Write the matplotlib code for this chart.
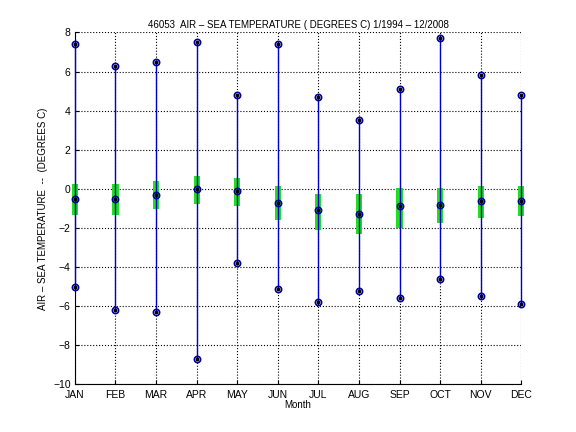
import numpy as np
import matplotlib
matplotlib.use("Agg")
import matplotlib.pyplot as plt

# ---------- data ----------
months = ["JAN", "FEB", "MAR", "APR", "MAY", "JUN",
          "JUL", "AUG", "SEP", "OCT", "NOV", "DEC"]
t_max = [7.4, 6.3, 6.5, 7.5, 4.8, 7.4, 4.7, 3.5, 5.1, 7.7, 5.8, 4.8]
t_min = [-5.0, -6.2, -6.3, -8.7, -3.8, -5.1, -5.8, -5.2, -5.6, -4.6, -5.5, -5.9]
t_mean = [-0.5, -0.5, -0.3, 0.0, -0.1, -0.7, -1.1, -1.3, -0.9, -0.8, -0.6, -0.6]
sd_top = [0.26, 0.26, 0.41, 0.67, 0.58, 0.17, -0.24, -0.24, 0.04, 0.05, 0.15, 0.15]
sd_bot = [-1.32, -1.32, -1.03, -0.78, -0.89, -1.57, -2.09, -2.29, -1.98, -1.73, -1.47, -1.37]
# ---------------------------------------------

plt.rcParams["font.family"] = ["Liberation Sans", "DejaVu Sans"]
plt.rcParams["font.size"] = 7

x = np.arange(1, 13)
fig = plt.figure(figsize=(5.76, 4.32), dpi=100)
ax = fig.add_axes([0.13, 0.11, 0.775, 0.815])

# min-max range lines
ax.vlines(x, t_min, t_max, color="#0000cc", lw=1.0, zorder=3, clip_on=False)
# mean +/- std bars
bars = ax.bar(x, np.array(sd_top) - np.array(sd_bot), bottom=sd_bot, width=0.15,
              color="#22dd22", zorder=2)
for b in bars:
    b.set_clip_on(False)

for vals in (t_max, t_min, t_mean):
    ax.plot(x, vals, "o", ls="none", ms=4.5, mfc="none", mec="#000099", mew=1.2,
            zorder=4, clip_on=False)
    ax.plot(x, vals, ".", ls="none", ms=3.5, color="black", zorder=5, clip_on=False)

ax.set_xlim(1, 12)
ax.set_ylim(-10, 8)
ax.set_xticks(x)
ax.set_xticklabels(months)
ax.set_yticks(np.arange(-10, 9, 2))
ax.grid(True, color="black", ls=":", lw=0.8)
ax.set_axisbelow(True)
ax.spines["top"].set_visible(False)
ax.spines["right"].set_visible(False)
ax.tick_params(direction="in", length=3, width=0.8, labelsize=7.5)
ax.tick_params(axis="x", pad=4)
ax.tick_params(axis="y", pad=3)

ax.set_title("46053  AIR \u2013 SEA TEMPERATURE ( DEGREES C) 1/1994 \u2013 12/2008",
             fontsize=7, pad=3)
ax.set_xlabel("Month", labelpad=0)
ax.set_ylabel("AIR \u2013 SEA TEMPERATURE  --  (DEGREES C)", labelpad=4)

fig.savefig("out.png", dpi=100)
